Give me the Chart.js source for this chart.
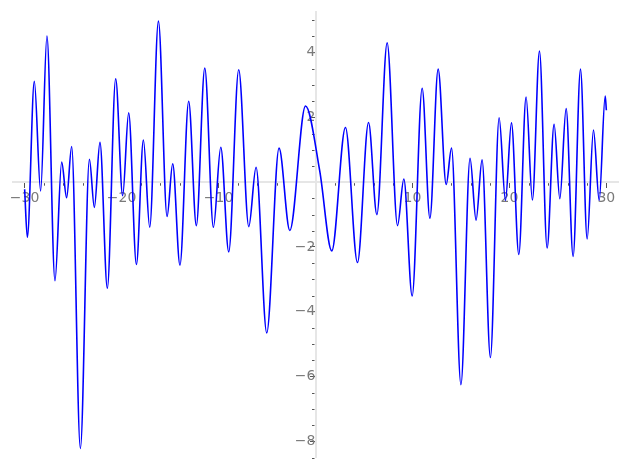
<!DOCTYPE html>
<html>
<head>
<meta charset="utf-8">
<script src="https://cdn.jsdelivr.net/npm/chart.js@4.4.0/dist/chart.umd.min.js"></script>
<style>
  html, body { margin: 0; padding: 0; background: #fff; }
  #wrap { width: 627px; height: 470px; }
</style>
</head>
<body>
<div id="wrap"><canvas id="plot" width="627" height="470"></canvas></div>
<script>
// curve: turning points (plus ends)
var xVals = [-30, -29.72, -29.0, -28.35, -27.70, -26.87, -26.18, -25.67, -25.15, -24.25,
    -23.32, -22.81, -22.23, -21.47, -20.61, -19.89, -19.27, -18.47, -17.75, -17.10,
    -16.20, -15.31, -14.73, -13.98, -13.08, -12.29, -11.42, -10.53, -9.77, -8.95,
    -7.92, -6.88, -6.13, -5.03, -3.76, -2.65, -1.03, 0.44, 1.68, 3.09,
    4.33, 5.47, 6.33, 7.39, 8.46, 9.11, 9.97, 11.00, 11.80, 12.65,
    13.48, 14.03, 15.00, 15.94, 16.56, 17.18, 18.04, 18.94, 19.59, 20.21,
    20.97, 21.72, 22.37, 23.10, 23.89, 24.61, 25.20, 25.85, 26.57, 27.33,
    28.02, 28.67, 29.26, 29.88, 30];
var yVals = [-0.22, -1.70, 3.11, -0.27, 4.51, -3.04, 0.62, -0.48, 1.10, -8.22,
    0.71, -0.78, 1.23, -3.27, 3.19, -0.42, 2.14, -2.54, 1.30, -1.39,
    4.97, -1.06, 0.57, -2.56, 2.50, -1.34, 3.52, -1.39, 1.08, -2.15,
    3.47, -1.37, 0.46, -4.65, 1.05, -1.49, 2.35, 0.34, -2.12, 1.69,
    -2.48, 1.84, -1.00, 4.30, -1.34, 0.10, -3.51, 2.90, -1.11, 3.49,
    -0.07, 1.05, -6.25, 0.74, -1.17, 0.69, -5.41, 1.99, -0.56, 1.83,
    -2.23, 2.63, -0.55, 4.05, -2.03, 1.79, -0.51, 2.27, -2.29, 3.49,
    -1.75, 1.61, -0.56, 2.66, 2.22];

var xTicks = [-30, -20, -10, 0, 10, 20, 30];
var yTicks = [-8, -6, -4, -2, 0, 2, 4];
var xRange = [-31.2, 31.2];
var yRange = [-8.5, 5.24];

var points = xVals.map(function (x, i) { return { x: x, y: yVals[i] }; });

function label(v) {
    if (v === 0) return "";
    return String(v).replace("-", "\u2212");
}

// short minor tick marks, placed through the scales
var minorTicks = {
    id: "minorTicks",
    beforeDatasetsDraw: function (chart) {
        var c = chart.ctx, xs = chart.scales.x, ys = chart.scales.y;
        var x0 = xs.getPixelForValue(0), y0 = ys.getPixelForValue(0);
        c.save();
        c.strokeStyle = "#555";
        c.lineWidth = 1;
        c.beginPath();
        for (var v = -30; v <= 30; v += 2) {
            if (v % 10 === 0) continue;
            var px = Math.round(xs.getPixelForValue(v)) + 0.5;
            c.moveTo(px, y0 + 1);
            c.lineTo(px, y0 + 3.5);
        }
        for (var w = -8.5; w <= 5; w += 0.5) {
            if (w % 2 === 0) continue;
            var py = Math.round(ys.getPixelForValue(w)) + 0.5;
            c.moveTo(x0 - 1, py);
            c.lineTo(x0 - 3.5, py);
        }
        c.stroke();
        c.restore();
    }
};

var ctx = document.getElementById("plot").getContext("2d");

new Chart(ctx, {
    type: "line",
    data: {
        datasets: [{
            data: points,
            borderColor: "#0000ff",
            borderWidth: 1.6,
            pointRadius: 0,
            fill: false,
            cubicInterpolationMode: "monotone"
        }]
    },
    options: {
        responsive: false,
        animation: false,
        layout: { padding: { left: 13, right: 9, top: 9, bottom: 10 } },
        plugins: { legend: { display: false }, tooltip: { enabled: false } },
        scales: {
            x: {
                type: "linear",
                min: xRange[0],
                max: xRange[1],
                position: { y: 0 },
                afterBuildTicks: function (s) { s.ticks = xTicks.map(function (v) { return { value: v }; }); },
                border: { color: "#e6e6e6", width: 2 },
                grid: { drawOnChartArea: false, drawTicks: true, tickLength: 5, tickColor: "#555", tickWidth: 1 },
                ticks: {
                    autoSkip: false, maxRotation: 0, padding: 3,
                    color: "#7a7a7a",
                    font: { family: "DejaVu Sans", size: 14 },
                    callback: label
                }
            },
            y: {
                type: "linear",
                min: yRange[0],
                max: yRange[1],
                position: { x: 0 },
                afterBuildTicks: function (s) { s.ticks = yTicks.map(function (v) { return { value: v }; }); },
                border: { color: "#e6e6e6", width: 2 },
                grid: { drawOnChartArea: false, drawTicks: true, tickLength: 5, tickColor: "#555", tickWidth: 1 },
                ticks: {
                    autoSkip: false, padding: 4,
                    color: "#7a7a7a",
                    font: { family: "DejaVu Sans", size: 14 },
                    callback: label
                }
            }
        }
    },
    plugins: [minorTicks]
});
</script>
</body>
</html>
